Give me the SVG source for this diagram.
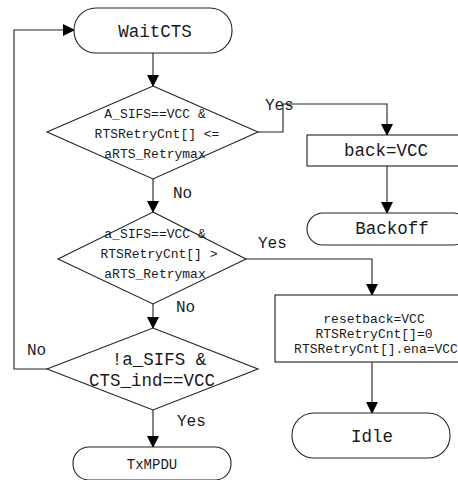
<svg xmlns="http://www.w3.org/2000/svg" width="458" height="480" viewBox="0 0 458 480">
  <defs>
    <marker id="arrow" markerUnits="userSpaceOnUse" markerWidth="12" markerHeight="14" refX="11" refY="6" orient="auto">
      <path d="M0,0 L12,6 L0,12 Z" fill="#000"/>
    </marker>
    <style>
      .shape { fill: #fff; stroke: #222; stroke-width: 1.1; }
      .edge { fill: none; stroke: #222; stroke-width: 1.1; marker-end: url(#arrow); }
      text { font-family: "Liberation Mono", "DejaVu Sans Mono", monospace; fill: #1a1a1a; }
      .big { font-size: 17.5px; text-anchor: middle; }
      .cond { font-size: 13px; text-anchor: middle; }
      .lbl { font-size: 16px; }
    </style>
  </defs>

  <rect width="458" height="480" fill="#fff"/>

  <!-- connectors and their branch labels -->
  <g id="connectors">
    <path class="edge" d="M153,53 L153,86"/>
    <path class="edge" d="M258,132 L283,132 L283,104 L387,104 L387,135"/>
    <path class="edge" d="M387,166 L387,213"/>
    <path class="edge" d="M153,179 L153,212"/>
    <path class="edge" d="M246,259 L372,259 L372,295"/>
    <path class="edge" d="M372,362 L372,413"/>
    <path class="edge" d="M153,304 L153,328"/>
    <path class="edge" d="M47,369 L14,369 L14,30 L74,30"/>
    <path class="edge" d="M153,410 L153,447"/>
    <text class="lbl" x="265" y="110">Yes</text>
    <text class="lbl" x="173" y="198">No</text>
    <text class="lbl" x="258" y="248">Yes</text>
    <text class="lbl" x="176" y="312">No</text>
    <text class="lbl" x="27" y="355">No</text>
    <text class="lbl" x="177" y="426">Yes</text>
  </g>

  <g id="waitcts">
    <rect class="shape" x="74" y="8" width="158" height="45" rx="22" ry="22"/>
    <text class="big" x="155" y="37">WaitCTS</text>
  </g>

  <g id="check-retry-ok">
    <polygon class="shape" points="153,86 258,132 153,179 47,132"/>
    <text class="cond" x="155" y="118">A_SIFS==VCC &amp;</text>
    <text class="cond" x="157" y="138">RTSRetryCnt[] &lt;=</text>
    <text class="cond" x="155" y="158">aRTS_Retrymax</text>
  </g>

  <g id="set-back">
    <rect class="shape" x="307" y="135" width="162" height="31"/>
    <text class="big" x="386" y="156">back=VCC</text>
  </g>

  <g id="backoff">
    <rect class="shape" x="307" y="213" width="162" height="32" rx="16" ry="16"/>
    <text class="big" x="392" y="234">Backoff</text>
  </g>

  <g id="check-retry-max">
    <polygon class="shape" points="153,212 246,259 153,304 58,259"/>
    <text class="cond" x="155" y="238">a_SIFS==VCC &amp;</text>
    <text class="cond" x="159" y="258">RTSRetryCnt[] &gt;</text>
    <text class="cond" x="155" y="278">aRTS_Retrymax</text>
  </g>

  <g id="reset">
    <rect class="shape" x="275" y="295" width="195" height="67"/>
    <text class="cond" x="374" y="323">resetback=VCC</text>
    <text class="cond" x="374" y="338">RTSRetryCnt[]=0</text>
    <text class="cond" x="376" y="353">RTSRetryCnt[].ena=VCC</text>
  </g>

  <g id="idle">
    <rect class="shape" x="292" y="413" width="158" height="45" rx="22" ry="22"/>
    <text class="big" x="372" y="442">Idle</text>
  </g>

  <g id="check-cts">
    <polygon class="shape" points="153,328 258,369 153,410 47,369"/>
    <text class="big" x="159" y="365">!a_SIFS &amp;</text>
    <text class="big" x="152" y="386">CTS_ind==VCC</text>
  </g>

  <g id="txmpdu">
    <rect class="shape" x="73" y="447" width="158" height="33" rx="16" ry="16"/>
    <text x="152" y="469" style="font-size:14px;text-anchor:middle">TxMPDU</text>
  </g>
</svg>
